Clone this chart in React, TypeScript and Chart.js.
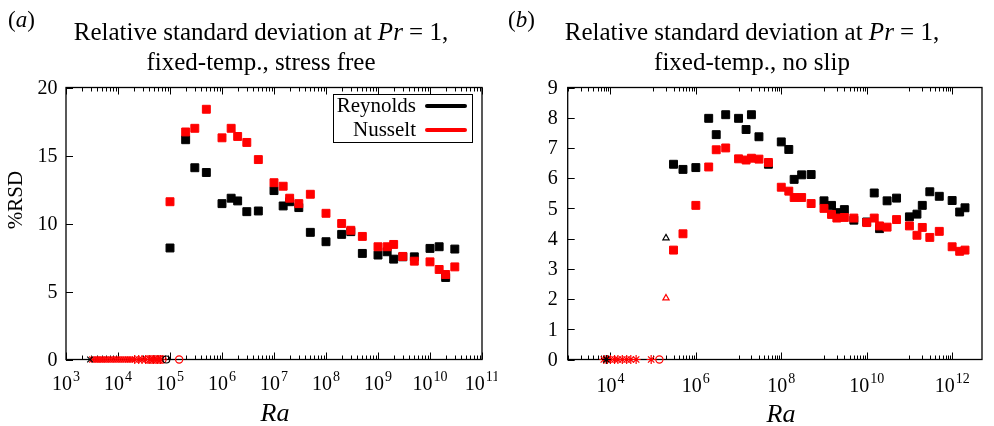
import React, { useEffect, useRef } from "react";
import { Chart, registerables } from "chart.js";
Chart.register(...registerables);

const FONT = "'Liberation Serif', 'Times New Roman', serif";

// ---------- Panel (a): stress free ----------
const aRa = [1e5, 2e5, 3e5, 5e5, 1e6, 1.5e6, 2e6, 3e6, 5e6, 1e7, 1.5e7, 2e7, 3e7, 5e7, 1e8, 2e8, 3e8, 5e8, 1e9, 1.5e9, 2e9, 3e9, 5e9, 1e10, 1.5e10, 2e10, 3e10];
const aReynolds = [8.2, 16.16, 14.1, 13.75, 11.46, 11.86, 11.66, 10.87, 10.92, 12.42, 11.29, 11.6, 11.17, 9.35, 8.66, 9.2, 9.4, 7.8, 7.68, 7.92, 7.38, 7.55, 7.55, 8.17, 8.29, 6.03, 8.12];
const aNusselt = [11.6, 16.73, 17.0, 18.4, 16.3, 17.0, 16.4, 15.96, 14.7, 13.0, 12.74, 11.86, 11.46, 12.15, 10.75, 10.0, 9.5, 9.05, 8.29, 8.29, 8.46, 7.58, 7.23, 7.18, 6.62, 6.25, 6.81];
// runs with zero deviation (steady), drawn on the axis
const aZeroRedCross = [3200, 3500, 3800, 4100, 4500, 4900, 5300, 5800, 6300, 6900, 7500, 8200, 9000, 9800, 10700, 11700, 12800, 14000, 15500, 17000, 18500];
const aZeroRedStar = [21000, 25000, 29000, 34000, 41000, 48000, 57000, 66000];
const aZeroRedCircle = [38000, 45000, 53000, 62000, 72000, 150000];
const aZeroBlackCross = [2900];
const aZeroBlackCircle = [85000];
const aYTicks = [0, 5, 10, 15, 20];
const aXTickExps = [3, 4, 5, 6, 7, 8, 9, 10, 11];

// ---------- Panel (b): no slip ----------
const bRa = [3e5, 5e5, 1e6, 2e6, 3e6, 5e6, 1e7, 1.5e7, 2e7, 3e7, 5e7, 1e8, 1.5e8, 2e8, 3e8, 5e8, 1e9, 1.5e9, 2e9, 3e9, 5e9, 1e10, 1.5e10, 2e10, 3e10, 5e10, 1e11, 1.5e11, 2e11, 3e11, 5e11, 1e12, 1.5e12, 2e12];
const bReynolds = [6.46, 6.29, 6.35, 7.98, 7.44, 8.1, 7.98, 7.61, 8.1, 7.37, 6.46, 7.2, 6.95, 5.96, 6.11, 6.12, 5.25, 5.1, 4.86, 4.96, 4.61, 4.55, 5.51, 4.33, 5.25, 5.34, 4.72, 4.81, 5.1, 5.55, 5.4, 5.26, 4.88, 5.02];
const bNusselt = [3.62, 4.16, 5.1, 6.37, 6.94, 7.0, 6.64, 6.6, 6.66, 6.63, 6.52, 5.7, 5.57, 5.36, 5.36, 5.16, 5.0, 4.8, 4.68, 4.7, 4.68, 4.53, 4.68, 4.42, 4.38, 4.63, 4.42, 4.11, 4.37, 4.04, 4.24, 3.73, 3.58, 3.62];
const bTriRa = [2e5];
const bTriReynolds = [4.02];
const bTriNusselt = [2.03];
const bZeroRedStar = [7000, 8500, 10000, 12500, 15000, 19000, 24000, 30000, 40000, 90000];
const bZeroRedCircle = [140000];
const bZeroBlackStar = [8000];
const bYTicks = [0, 1, 2, 3, 4, 5, 6, 7, 8, 9];
const bXTickExps = [4, 6, 8, 10, 12];

const RED = "rgb(255,0,0)";
const BLACK = "#000";

type PanelCfg = {
  xMin: number;
  xMax: number;
  yMax: number;
  yTicks: number[];
  xExps: number[];
  minorDecades: number[];
  minorK: number[];
  yGap: number;
  xBaseline: number;
  legend: boolean;
  padding: { left: number; top: number; right: number; bottom: number };
};

function axesPlugin(cfg: PanelCfg) {
  return {
    id: "gnuAxes",
    beforeDatasetsDraw(chart: any) {
      const { ctx, chartArea: a, scales } = chart;
      const xs = scales.x;
      const ys = scales.y;
      ctx.save();
      ctx.strokeStyle = BLACK;
      ctx.lineWidth = 1;
      ctx.beginPath();
      const xt = (v: number, len: number) => {
        if (v < cfg.xMin * 0.999 || v > cfg.xMax * 1.001) return;
        const px = Math.round(xs.getPixelForValue(v)) + 0.5;
        ctx.moveTo(px, a.bottom);
        ctx.lineTo(px, a.bottom - len);
        ctx.moveTo(px, a.top);
        ctx.lineTo(px, a.top + len);
      };
      for (const e of cfg.xExps) xt(Math.pow(10, e), 7);
      for (const n of cfg.minorDecades) for (const k of cfg.minorK) xt(k * Math.pow(10, n), 4);
      for (const v of cfg.yTicks) {
        const py = Math.round(ys.getPixelForValue(v)) + 0.5;
        ctx.moveTo(a.left, py);
        ctx.lineTo(a.left + 7, py);
      }
      ctx.stroke();
      ctx.lineWidth = 1.3;
      ctx.strokeRect(a.left, a.top, a.right - a.left, a.bottom - a.top);
      ctx.restore();
    },
    afterDraw(chart: any) {
      const { ctx, chartArea: a, scales } = chart;
      const xs = scales.x;
      const ys = scales.y;
      ctx.save();
      ctx.fillStyle = BLACK;
      ctx.font = `20px ${FONT}`;
      ctx.textAlign = "right";
      ctx.textBaseline = "middle";
      for (const v of cfg.yTicks) {
        ctx.fillText(String(v), a.left - cfg.yGap, ys.getPixelForValue(v) + 1);
      }
      ctx.textAlign = "left";
      ctx.textBaseline = "alphabetic";
      for (const e of cfg.xExps) {
        const px = xs.getPixelForValue(Math.pow(10, e));
        ctx.font = `20px ${FONT}`;
        const wb = ctx.measureText("10").width;
        ctx.font = `14px ${FONT}`;
        const ws = ctx.measureText(String(e)).width;
        const x0 = px - (wb + ws + 1) / 2;
        ctx.font = `20px ${FONT}`;
        ctx.fillText("10", x0, cfg.xBaseline);
        ctx.font = `14px ${FONT}`;
        ctx.fillText(String(e), x0 + wb + 1, cfg.xBaseline - 9);
      }
      if (cfg.legend) {
        const bx = 333.5, by = 94.5, bw = 139, bh = 48;
        ctx.lineWidth = 1;
        ctx.strokeStyle = BLACK;
        ctx.strokeRect(bx, by, bw, bh);
        ctx.font = `21px ${FONT}`;
        ctx.textAlign = "right";
        const rows = [
          { t: "Reynolds", c: BLACK, y: 106 },
          { t: "Nusselt", c: RED, y: 130 },
        ];
        for (const r of rows) {
          ctx.fillStyle = BLACK;
          ctx.fillText(r.t, 416, r.y + 6);
          ctx.strokeStyle = r.c;
          ctx.lineWidth = 4;
          ctx.lineCap = "round";
          ctx.beginPath();
          ctx.moveTo(427, r.y);
          ctx.lineTo(465, r.y);
          ctx.stroke();
        }
      }
      ctx.restore();
    },
  };
}

const pts = (xs: number[], ys: number[]) => xs.map((x, i) => ({ x, y: ys[i] }));
const zeros = (xs: number[]) => xs.map((x) => ({ x, y: 0 }));

function squares(label: string, data: any[], color: string, order: number) {
  return {
    label,
    data,
    pointStyle: "rect",
    pointRadius: 5.6,
    borderWidth: 1,
    backgroundColor: color,
    borderColor: color,
    order,
    clip: false,
  };
}
function markers(label: string, data: any[], color: string, style: string, r: number, order: number, fill = false) {
  return {
    label,
    data,
    pointStyle: style,
    pointRadius: r,
    borderWidth: 1.2,
    backgroundColor: fill ? color : "rgba(0,0,0,0)",
    borderColor: color,
    order,
    clip: false,
  };
}

function Panel({ cfg, datasets }: { cfg: PanelCfg; datasets: any[] }) {
  const ref = useRef<HTMLCanvasElement>(null);
  useEffect(() => {
    if (!ref.current) return;
    const chart = new Chart(ref.current, {
      type: "scatter",
      data: { datasets },
      options: {
        animation: false,
        responsive: false,
        maintainAspectRatio: false,
        events: [],
        layout: { padding: cfg.padding },
        plugins: { legend: { display: false }, tooltip: { enabled: false }, title: { display: false } },
        scales: {
          x: { type: "logarithmic", min: cfg.xMin, max: cfg.xMax, display: false },
          y: { type: "linear", min: 0, max: cfg.yMax, display: false },
        },
      } as any,
      plugins: [axesPlugin(cfg) as any],
    });
    return () => chart.destroy();
  }, []);
  return <canvas ref={ref} width={497} height={426} style={{ display: "block", width: 497, height: 426 }} />;
}

const cfgA: PanelCfg = {
  xMin: 1e3,
  xMax: 1e11,
  yMax: 20,
  yTicks: aYTicks,
  xExps: aXTickExps,
  minorDecades: [3, 4, 5, 6, 7, 8, 9, 10],
  minorK: [2, 3, 4, 5, 6, 7, 8, 9],
  yGap: 8.5,
  xBaseline: 390,
  legend: true,
  padding: { left: 66, top: 87.5, right: 15, bottom: 66.5 },
};
const cfgB: PanelCfg = {
  xMin: 1e3,
  xMax: 5e12,
  yMax: 9,
  yTicks: bYTicks,
  xExps: bXTickExps,
  minorDecades: [3, 5, 7, 9, 11],
  minorK: [1, 2, 3, 4, 5, 6, 7, 8, 9],
  yGap: 10,
  xBaseline: 392,
  legend: false,
  padding: { left: 70.7, top: 87.5, right: 12, bottom: 66.5 },
};

const dsA = [
  markers("zero Reynolds ×", zeros(aZeroBlackCross), BLACK, "crossRot", 4, -2),
  markers("zero Reynolds ○", zeros(aZeroBlackCircle), BLACK, "circle", 3.5, -2),
  markers("zero Nusselt ×", zeros(aZeroRedCross), RED, "crossRot", 4.2, -1),
  markers("zero Nusselt *", zeros(aZeroRedStar), RED, "star", 4.5, -1),
  markers("zero Nusselt ○", zeros(aZeroRedCircle), RED, "circle", 3.6, -1),
  squares("Nusselt", pts(aRa, aNusselt), RED, 0),
  squares("Reynolds", pts(aRa, aReynolds), BLACK, 1),
];
const dsB = [
  markers("zero Reynolds *", zeros(bZeroBlackStar), BLACK, "star", 4.5, -2),
  markers("zero Nusselt *", zeros(bZeroRedStar), RED, "star", 4.5, -1),
  markers("zero Nusselt ○", zeros(bZeroRedCircle), RED, "circle", 3.6, -1),
  markers("Reynolds △", pts(bTriRa, bTriReynolds), BLACK, "triangle", 3.6, -1),
  markers("Nusselt △", pts(bTriRa, bTriNusselt), RED, "triangle", 3.6, -1),
  squares("Nusselt", pts(bRa, bNusselt), RED, 0),
  squares("Reynolds", pts(bRa, bReynolds), BLACK, 1),
];

// place an HTML text block so that its first baseline sits at `baseline`
function topFor(baseline: number, fs: number, lh: number) {
  return baseline - ((lh - 1.107 * fs) / 2 + 0.891 * fs);
}

const abs = (s: any) => ({ position: "absolute" as const, fontFamily: FONT, color: "#000", whiteSpace: "nowrap" as const, ...s });

export default function App() {
  return (
    <div style={{ position: "absolute", left: 0, top: 0, width: 994, height: 426, background: "#fff", overflow: "hidden" }}>
      <div style={{ position: "absolute", left: 0, top: 0 }}>
        <Panel cfg={cfgA} datasets={dsA} />
      </div>
      <div style={{ position: "absolute", left: 497, top: 0 }}>
        <Panel cfg={cfgB} datasets={dsB} />
      </div>

      <div style={abs({ left: 8, top: topFor(28, 23, 30), fontSize: 23, lineHeight: "30px" })}>
        (<i>a</i>)
      </div>
      <div style={abs({ left: 508, top: topFor(28, 23, 30), fontSize: 23, lineHeight: "30px" })}>
        (<i>b</i>)
      </div>

      <div style={abs({ left: 261 - 250, width: 500, textAlign: "center", top: topFor(40, 25, 30), fontSize: 25, lineHeight: "30px" })}>
        Relative standard deviation at <i>Pr</i> = 1,
        <br />
        fixed-temp., stress free
      </div>
      <div style={abs({ left: 752 - 250, width: 500, textAlign: "center", top: topFor(40, 25, 30), fontSize: 25, lineHeight: "30px" })}>
        Relative standard deviation at <i>Pr</i> = 1,
        <br />
        fixed-temp., no slip
      </div>

      <div style={abs({ left: 275 - 50, width: 100, textAlign: "center", top: topFor(422, 26, 30), fontSize: 26, lineHeight: "30px" })}>
        <i>Ra</i>
      </div>
      <div style={abs({ left: 781 - 50, width: 100, textAlign: "center", top: topFor(423, 26, 30), fontSize: 26, lineHeight: "30px" })}>
        <i>Ra</i>
      </div>

      <div
        style={abs({
          left: 15 - 100,
          top: 200 - 15,
          width: 200,
          height: 30,
          lineHeight: "30px",
          textAlign: "center",
          fontSize: 21,
          transform: "rotate(-90deg)",
        })}
      >
        %RSD
      </div>
    </div>
  );
}
